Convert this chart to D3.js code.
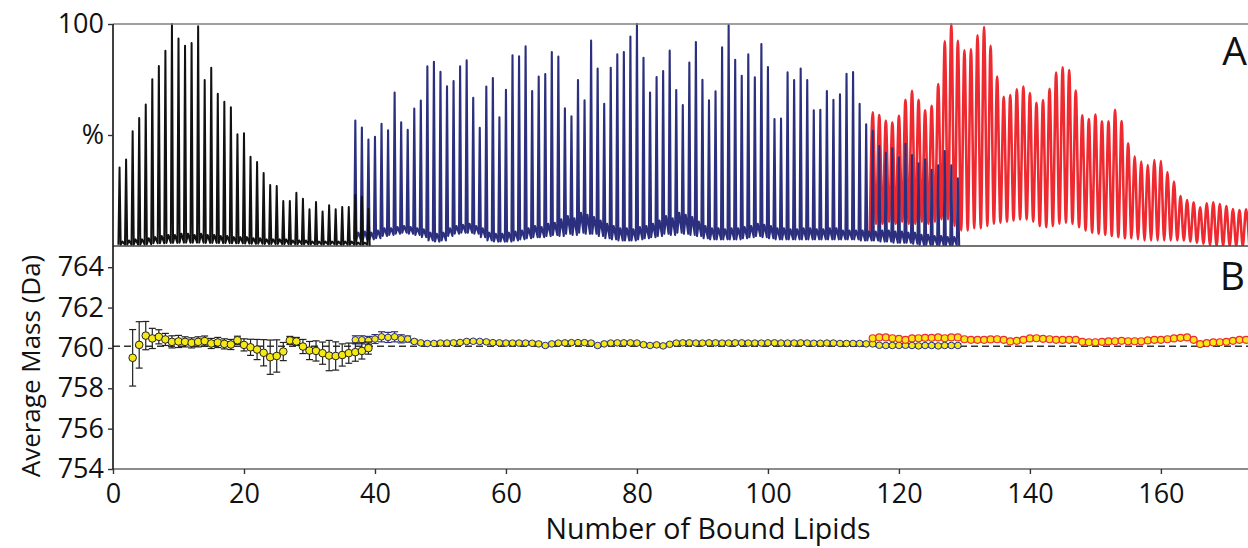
<!DOCTYPE html>
<html>
<head>
<meta charset="utf-8">
<script src="https://cdn.jsdelivr.net/npm/d3@7"></script>
<style>
  html, body { margin: 0; padding: 0; background: #fff; }
  svg { display: block; font-family: "Open Sans", "Noto Sans", sans-serif; }
</style>
</head>
<body>
<svg id="chart" width="1248" height="548"></svg>
<script>
// ---------- Panel A: native MS, relative intensity (%) of each lipid-bound peak ----------
const lipidTicks = [0, 20, 40, 60, 80, 100, 120, 140, 160];
const massTicks = [754, 756, 758, 760, 762, 764];
const pctTicks = [100, 50];

// black spectrum, peaks at 1..39 bound lipids
const blackFirst = 1;
const blackPeaks = [35.4, 39.0, 51.7, 57.7, 63.7, 75.1, 81.1, 88.0, 100, 93.5,
  90.2, 91.4, 99.0, 74.8, 80.3, 68.6, 65.0, 62.5, 50.3, 50.8,
  40.2, 37.8, 32.9, 27.5, 27.0, 20.3, 20.3, 24.0, 21.3, 16.5,
  19.8, 15.5, 18.3, 16.5, 17.6, 17.6, 23.0, 22.2, 16.7];
// minor adduct peaks between main peaks, and the trough level
const blackSub = [2, 2.5, 3, 3, 3.5, 4, 4.5, 5, 5, 5.5,
  5.5, 5, 5.5, 5, 5, 4.5, 4.5, 4, 4, 4,
  3.5, 3.5, 3, 3, 3, 3, 2.5, 2.5, 2.5, 2,
  2, 2, 2, 2, 2, 2, 1.5, 1.5];
const blackFloor = [0.6, 0.6, 0.6, 0.6, 0.8, 1.2, 1.2, 1.4, 1.4, 1.5,
  1.5, 1.5, 1.5, 1.4, 1.4, 1.3, 1.3, 1.2, 1.2, 1.1,
  1, 1, 0.9, 0.9, 0.9, 0.8, 0.8, 0.8, 0.8, 0.7,
  0.7, 0.7, 0.7, 0.6, 0.6, 0.6, 0.6, 0.6];

// blue spectrum, peaks at 37..129 bound lipids
const blueFirst = 37;
const bluePeaks = [56.5, 53.4, 48.0, 49.2, 55.1, 52.1, 69.1, 55.7, 52.3, 61.9,
  65.5, 80.9, 83.0, 78.5, 71.9, 74.3, 80.9, 83.6, 66.8, 53.2,
  71.8, 75.7, 58.0, 70.4, 85.9, 85.4, 89.9, 69.8, 76.3, 77.5,
  87.4, 85.3, 62.0, 58.4, 74.8, 65.6, 92.5, 79.9, 64.1, 80.3,
  86.3, 87.4, 94.4, 100, 84.8, 69.1, 76.1, 78.8, 88.0, 70.3,
  63.5, 82.6, 91.9, 74.9, 65.6, 69.7, 89.5, 99.5, 83.9, 76.7,
  86.3, 76.0, 91.0, 80.6, 57.2, 57.4, 78.2, 74.8, 79.9, 74.8,
  61.1, 61.4, 69.8, 65.8, 68.3, 77.6, 78.4, 64.0, 54.8, 51.9,
  45, 42, 44, 40, 46, 41, 37.2, 39, 34.3, 36.4,
  42.8, 36.4, 30.5];
const blueSub = [6, 6.5, 6, 7, 8, 8, 8.5, 9, 8.5, 8,
  7.5, 6, 5.5, 6, 8, 9, 9.5, 10, 9, 8,
  6, 5.5, 5.5, 6, 6.5, 7, 8, 9, 8.5, 10,
  10.5, 12, 13.5, 12.5, 15, 14, 13, 11.5, 10, 9,
  8, 8, 7.5, 8.5, 9, 10, 11.5, 13.5, 12.5, 15,
  14, 13, 11, 9, 8, 8, 7.5, 8, 8, 8.5,
  9, 10, 9.5, 9, 8, 8, 7.5, 7.5, 8, 8,
  7.5, 7.5, 8, 8, 7, 7, 7, 7, 6.5, 6.5,
  7, 7, 6.5, 6.5, 6, 6, 5, 5, 4.5, 4.5,
  4, 4];
const blueFloor = [3, 3, 3, 3.5, 4.5, 5, 5.5, 6, 5.5, 5,
  4, 2.5, 2, 2.5, 4.5, 5.5, 6, 6, 5.5, 4,
  2.5, 2, 2, 2, 2.5, 3, 3.5, 4, 4, 4.5,
  5, 4.5, 5.5, 5, 6, 5.5, 5.5, 4.5, 3.5, 3,
  2.5, 2.5, 2.5, 3, 3.5, 4, 4.5, 5.5, 5, 6,
  5.5, 5, 4.5, 3.5, 3, 3, 3, 3, 3, 3.5,
  4, 4.5, 4, 3.5, 3, 3, 3, 3, 3, 3,
  3, 3, 3, 3, 3, 3, 3, 2.5, 2.5, 2.5,
  2, 2, 1.5, 1.5, 1.5, 1, 0.5, 0.5, 0.5, 0.3,
  0.3, 0.3];

// red spectrum, peaks at 116..173 bound lipids
const redFirst = 116;
const redPeaks = [60.2, 59.0, 56.4, 55.6, 58.7, 65.8, 69.9, 65.8, 61.1, 63.1,
  72.9, 92.2, 100, 92.4, 88.1, 88.6, 94.9, 98.6, 90.2, 76.3,
  67.2, 68.0, 70.6, 71.8, 68.9, 64.5, 65.7, 70.8, 78.1, 80.5,
  79.3, 70.0, 58.9, 57.2, 59.2, 56.2, 56.2, 61.4, 56.3, 46.2,
  40.4, 38.0, 36.5, 38.7, 38.3, 33.3, 29.0, 22.5, 20.7, 19.7,
  17.4, 19.2, 19.7, 18.9, 18.0, 16.7, 16.2, 16.5];
const redValley = [10, 10, 11, 10, 11, 10, 10, 11, 10, 11,
  12, 12, 9, 7, 7, 8, 8, 9, 10, 10.5,
  11, 11.5, 12, 12, 11, 9, 8.5, 9, 10, 10.5,
  10, 8.5, 7, 6, 5.5, 5, 4.5, 4, 3.5, 3.5,
  3, 2.5, 2.5, 2.5, 2.5, 2.5, 2.5, 2.5, 2, 1.5,
  1, 0.5, 0, 0, 0, 0, 0, 0];

// ---------- Panel B: average bound-lipid mass (Da) ----------
const refMass = 760.08;
const blackMassFirst = 3;
const blackMass = [759.51, 760.15, 760.61, 760.47, 760.55, 760.42, 760.30, 760.32, 760.30, 760.25,
  760.30, 760.34, 760.22, 760.27, 760.20, 760.17, 760.38, 760.15, 760.03, 759.92,
  759.76, 759.54, 759.60, 759.82, 760.37, 760.32, 760.07, 759.87, 759.85, 759.74,
  759.62, 759.60, 759.65, 759.74, 759.79, 759.85, 759.99];
const blackErr = [1.4, 1.15, 0.7, 0.5, 0.35, 0.3, 0.3, 0.3, 0.25, 0.25,
  0.25, 0.25, 0.25, 0.25, 0.25, 0.25, 0.2, 0.3, 0.4, 0.5,
  0.65, 0.85, 0.8, 0.45, 0.2, 0.2, 0.35, 0.45, 0.5, 0.55,
  0.75, 0.7, 0.55, 0.5, 0.45, 0.4, 0.3];

const blueMassFirst = 37;
const blueMass = [760.40, 760.40, 760.37, 760.44, 760.55, 760.52, 760.55, 760.45, 760.44, 760.32,
  760.25, 760.22, 760.22, 760.24, 760.24, 760.25, 760.27, 760.32, 760.33, 760.32,
  760.30, 760.26, 760.25, 760.24, 760.24, 760.24, 760.24, 760.23, 760.20, 760.12,
  760.20, 760.24, 760.25, 760.26, 760.26, 760.26, 760.24, 760.12, 760.20, 760.24,
  760.25, 760.25, 760.25, 760.24, 760.16, 760.12, 760.15, 760.10, 760.18, 760.24,
  760.25, 760.25, 760.24, 760.24, 760.25, 760.25, 760.24, 760.24, 760.25, 760.25,
  760.24, 760.24, 760.24, 760.25, 760.25, 760.24, 760.24, 760.24, 760.25, 760.24,
  760.23, 760.23, 760.24, 760.24, 760.22, 760.22, 760.22, 760.22, 760.20, 760.20,
  760.13, 760.12, 760.12, 760.12, 760.13, 760.12, 760.10, 760.12, 760.12, 760.10,
  760.12, 760.12, 760.12];
const blueErr = [0.2, 0.2, 0.2, 0.22, 0.25, 0.25, 0.25, 0.2, 0.15, 0.1,
  0.08, 0.08, 0.08, 0.08, 0.08, 0.08, 0.08, 0.08, 0.08, 0.08,
  0.08, 0.08, 0.08, 0.08, 0.08, 0.08, 0.08, 0.08, 0.08, 0.08,
  0.08, 0.08, 0.08, 0.08, 0.08, 0.08, 0.08, 0.08, 0.08, 0.08,
  0.08, 0.08, 0.08, 0.08, 0.08, 0.08, 0.08, 0.08, 0.08, 0.08,
  0.08, 0.08, 0.08, 0.08, 0.08, 0.08, 0.08, 0.08, 0.08, 0.08,
  0.08, 0.08, 0.08, 0.08, 0.08, 0.08, 0.08, 0.08, 0.08, 0.08,
  0.08, 0.08, 0.08, 0.08, 0.08, 0.08, 0.08, 0.08, 0.08, 0.08,
  0.08, 0.08, 0.08, 0.08, 0.08, 0.08, 0.08, 0.08, 0.08, 0.08,
  0.08, 0.08, 0.08];

const redMassFirst = 116;
const redMass = [760.48, 760.52, 760.52, 760.48, 760.45, 760.40, 760.47, 760.48, 760.50, 760.50,
  760.52, 760.48, 760.52, 760.52, 760.43, 760.40, 760.40, 760.40, 760.42, 760.43,
  760.40, 760.32, 760.35, 760.40, 760.47, 760.48, 760.45, 760.43, 760.40, 760.40,
  760.40, 760.40, 760.30, 760.28, 760.28, 760.30, 760.32, 760.33, 760.35, 760.33,
  760.33, 760.33, 760.37, 760.40, 760.40, 760.43, 760.47, 760.50, 760.52, 760.40,
  760.19, 760.24, 760.27, 760.28, 760.30, 760.35, 760.40, 760.40];

// ---------- layout ----------
const svg = d3.select("#chart");
const left = 113, right = 1248, topA = 24, botA = 246, botB = 469;

const x = d3.scaleLinear().domain([0, 173.3]).range([left, right]);
const yPct = d3.scaleLinear().domain([0, 100]).range([botA, topA]);
const yMass = d3.scaleLinear().domain([754, 765.05]).range([botB, botA]);

const defs = svg.append("defs");
defs.append("clipPath").attr("id", "clipA")
  .append("rect").attr("x", left).attr("y", topA - 1).attr("width", right - left).attr("height", botA - topA + 1);
defs.append("clipPath").attr("id", "clipB")
  .append("rect").attr("x", left).attr("y", botA + 1).attr("width", right - left).attr("height", botB - botA - 1);

// Build a sharp-peaked trace: trough -> peak -> trough -> adduct bump -> trough ...
function sharpTrace(first, peaks, sub, floor) {
  const pts = [[first - 0.17, floor[0]]];
  peaks.forEach((p, i) => {
    const n = first + i;
    pts.push([n, p]);
    if (i < peaks.length - 1) {
      pts.push([n + 0.17, floor[i]], [n + 0.45, sub[i]], [n + 0.83, floor[i]]);
    } else {
      pts.push([n + 0.2, 0]);
    }
  });
  return pts;
}
// Smooth oscillating trace: peak / valley pairs
function waveTrace(first, peaks, valley) {
  const pts = [[first - 0.45, 4]];
  peaks.forEach((p, i) => {
    const n = first + i;
    pts.push([n, p], [n + 0.5, valley[i]]);
  });
  return pts;
}

const sharpLine = d3.line().x(d => x(d[0])).y(d => yPct(d[1])).curve(d3.curveLinear);
const waveLine = d3.line().x(d => x(d[0])).y(d => yPct(d[1])).curve(d3.curveMonotoneX);

const gA = svg.append("g").attr("clip-path", "url(#clipA)");
gA.append("path").attr("d", waveLine(waveTrace(redFirst, redPeaks, redValley)))
  .attr("fill", "none").attr("stroke", "#ee2a30").attr("stroke-width", 2.6).attr("stroke-linejoin", "round");
gA.append("path").attr("d", sharpLine(sharpTrace(blueFirst, bluePeaks, blueSub, blueFloor)))
  .attr("fill", "none").attr("stroke", "#2b2f7e").attr("stroke-width", 2.1).attr("stroke-linejoin", "round");
gA.append("path").attr("d", sharpLine(sharpTrace(blackFirst, blackPeaks, blackSub, blackFloor)))
  .attr("fill", "none").attr("stroke", "#111").attr("stroke-width", 2).attr("stroke-linejoin", "round");

// ---------- panel B marks ----------
const gB = svg.append("g").attr("clip-path", "url(#clipB)");
gB.append("line")
  .attr("x1", left).attr("x2", right).attr("y1", yMass(refMass)).attr("y2", yMass(refMass))
  .attr("stroke", "#333").attr("stroke-width", 1.6).attr("stroke-dasharray", "7,4");

function massSeries(first, values, errs, stroke, r, sw) {
  const data = values.map((m, i) => ({ n: first + i, m, e: errs ? errs[i] : 0 }));
  const g = gB.append("g");
  if (errs) {
    const eg = g.selectAll("g.err").data(data).join("g").attr("stroke", stroke).attr("stroke-width", 1.2);
    eg.append("line").attr("x1", d => x(d.n)).attr("x2", d => x(d.n))
      .attr("y1", d => yMass(d.m - d.e)).attr("y2", d => yMass(d.m + d.e));
    eg.append("line").attr("x1", d => x(d.n) - 3.5).attr("x2", d => x(d.n) + 3.5)
      .attr("y1", d => yMass(d.m + d.e)).attr("y2", d => yMass(d.m + d.e));
    eg.append("line").attr("x1", d => x(d.n) - 3.5).attr("x2", d => x(d.n) + 3.5)
      .attr("y1", d => yMass(d.m - d.e)).attr("y2", d => yMass(d.m - d.e));
  }
  g.selectAll("circle").data(data).join("circle")
    .attr("cx", d => x(d.n)).attr("cy", d => yMass(d.m)).attr("r", r)
    .attr("fill", "#f6e813").attr("stroke", stroke).attr("stroke-width", sw);
}
massSeries(blueMassFirst, blueMass, blueErr, "#2b2f7e", 3.3, 1);
massSeries(blackMassFirst, blackMass, blackErr, "#222", 3.8, 1);
massSeries(redMassFirst, redMass, null, "#ee2a30", 3.5, 1.2);

// ---------- frame and axes ----------
svg.append("line").attr("x1", left).attr("x2", right).attr("y1", topA).attr("y2", topA)
  .attr("stroke", "#808080").attr("stroke-width", 1.6);
svg.append("line").attr("x1", left).attr("x2", right).attr("y1", botA).attr("y2", botA)
  .attr("stroke", "#444").attr("stroke-width", 1.6);
svg.append("line").attr("x1", left).attr("x2", right).attr("y1", botB).attr("y2", botB)
  .attr("stroke", "#666").attr("stroke-width", 1.6);
svg.append("line").attr("x1", left).attr("x2", left).attr("y1", topA).attr("y2", botB)
  .attr("stroke", "#111").attr("stroke-width", 1.6);

function styleAxis(g) {
  g.select(".domain").remove();
  g.selectAll(".tick line").attr("stroke", "#333").attr("stroke-width", 1.4);
  g.selectAll(".tick text").attr("fill", "#111").attr("font-size", 27)
    .attr("font-family", "'Open Sans', 'Noto Sans', sans-serif");
}

svg.append("g").attr("transform", `translate(0,${botB})`)
  .call(d3.axisBottom(x).tickValues(lipidTicks).tickSize(5).tickPadding(10).tickFormat(d3.format("d")))
  .call(styleAxis);

svg.append("g").attr("transform", `translate(${left},0)`)
  .call(d3.axisLeft(yMass).tickValues(massTicks).tickSize(5).tickPadding(4).tickFormat(d3.format("d")))
  .call(styleAxis);

svg.append("g").attr("transform", `translate(${left},0)`)
  .call(d3.axisLeft(yPct).tickValues(pctTicks).tickSize(5).tickPadding(4)
    .tickFormat(d => d === 100 ? "100" : "%"))
  .call(styleAxis);

// ---------- titles ----------
svg.append("text").attr("x", 708).attr("y", 539)
  .attr("text-anchor", "middle").attr("font-size", 28.5).attr("fill", "#111")
  .text("Number of Bound Lipids");

svg.append("text").attr("transform", "translate(40,366) rotate(-90)")
  .attr("text-anchor", "middle").attr("font-size", 26).attr("fill", "#111")
  .text("Average Mass (Da)");

svg.append("text").attr("x", 1247).attr("y", 65).attr("text-anchor", "end")
  .attr("font-size", 39).attr("fill", "#111").text("A");
svg.append("text").attr("x", 1245).attr("y", 290).attr("text-anchor", "end")
  .attr("font-size", 39).attr("fill", "#111").text("B");
</script>
</body>
</html>
